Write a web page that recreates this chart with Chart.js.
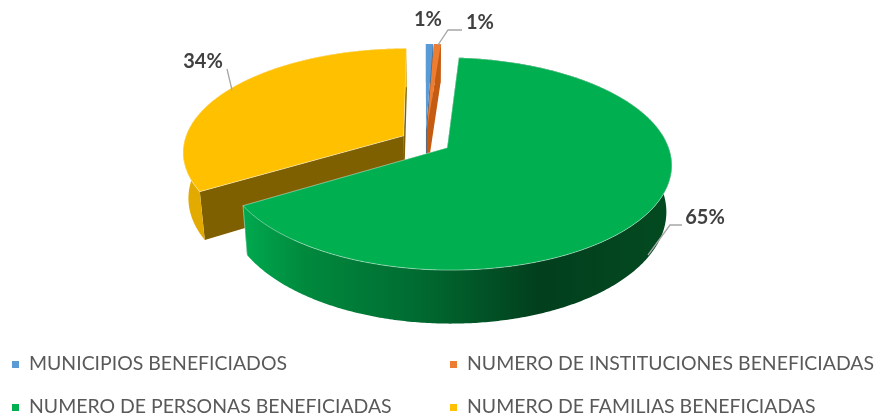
<!DOCTYPE html>
<html><head><meta charset="utf-8">
<style>html,body{margin:0;padding:0;background:#fff}#w{width:875px;height:418px;position:relative}canvas{filter:blur(.35px)}</style>
<script src="https://cdn.jsdelivr.net/npm/chart.js@4"></script>
</head><body><div id="w"><canvas id="c" width="875" height="418"></canvas></div>
<script>
const categories=['MUNICIPIOS BENEFICIADOS','NUMERO DE INSTITUCIONES BENEFICIADAS','NUMERO DE PERSONAS BENEFICIADAS','NUMERO DE FAMILIAS BENEFICIADAS'];
const shares=[0.6,0.6,65.2,33.6];
const faceColors=['#5b9bd5','#ed7d31','#00b050','#ffc000'];
const legendColors=['#5b9bd5','#ed7d31','#00b050','#ffc000'];
const cutColors=['#41719c','#c55a11','#007a38','#7f6000'];
const wallStops=[
 [[0,'#41719c'],[1,'#41719c']],
 [[0,'#c55a11'],[1,'#c55a11']],
 [[0,'#00a94e'],[0.14,'#008a3e'],[0.4,'#006c31'],[0.69,'#023f1d'],[1,'#034a20']],
 [[0,'#e3ab00'],[1,'#d9a400']]
];
const P={radius:120,spread:219.5,tilt:102,persp:0.15,depth:45,narrow:0.978,explode:0.115};
const order=[3,0,1,2];
const calloutLayout=[
 {x:428,y:20,line:null},
 {x:480,y:23,line:[[438,45],[448,30],[462,30]]},
 {x:705,y:218,line:[[648,255],[670,225],[682,225]]},
 {x:203,y:62,line:[[227,69],[232,90]]}
];
const legendLayout=[{x:12,y:361},{x:450,y:361},{x:12,y:404},{x:450,y:404}];

function projector(arc){
 const R=arc.outerRadius, mid=(arc.startAngle+arc.endAngle)/2, off=arc.options.offset/R;
 return (t,r,z)=>{
  const u=off*Math.cos(mid)+r*Math.cos(t), v=off*Math.sin(mid)+r*Math.sin(t), w=1/(1-P.persp*v);
  const shrink=1-(1-P.narrow)*z/P.depth;
  return [arc.x+P.spread*u*w*shrink, arc.y+P.tilt*v*w+z*w];
 };
}
function trace(ctx,pts){ctx.beginPath();pts.forEach((p,i)=>i?ctx.lineTo(p[0],p[1]):ctx.moveTo(p[0],p[1]));ctx.closePath();}
const pie3d={id:'pie3d',
 beforeDatasetsDraw(chart){
  const ctx=chart.ctx, meta=chart.getDatasetMeta(0);
  order.forEach(i=>{
   const arc=meta.data[i], pr=projector(arc), s=arc.startAngle, e=arc.endAngle;
   const n=Math.max(4,Math.ceil((e-s)/0.01));
   const top=[],bot=[];
   for(let k=0;k<=n;k++){const t=s+(e-s)*k/n;top.push(pr(t,1,0));bot.push(pr(t,1,P.depth));}
   const a0=pr(s,0,0),a1=pr(s,0,P.depth);
   ctx.save();
   ctx.fillStyle=cutColors[i];ctx.strokeStyle='rgba(255,255,255,.55)';ctx.lineWidth=.8;
   [[top[0],bot[0]],[top[n],bot[n]]].forEach(([a,b])=>{trace(ctx,[a0,a,b,a1]);ctx.fill();});
   const xs=top.concat(bot).map(p=>p[0]), x0=Math.min(...xs), x1=Math.max(...xs);
   const g=ctx.createLinearGradient(x0,0,x1,0);
   wallStops[i].forEach(([o,c])=>g.addColorStop(o,c));
   ctx.fillStyle=g;trace(ctx,top.concat(bot.slice().reverse()));ctx.fill();
   const face=[a0].concat(top);
   ctx.fillStyle=arc.options.backgroundColor;trace(ctx,face);ctx.fill();
   if(i>=2){ctx.stroke();
     ctx.beginPath();ctx.moveTo(top[n][0],top[n][1]);ctx.lineTo(bot[n][0],bot[n][1]);ctx.stroke();}
   ctx.restore();
  });
  return false;
 },
 afterDraw(chart){
  const ctx=chart.ctx, total=shares.reduce((a,b)=>a+b,0);
  ctx.save();
  calloutLayout.forEach((c,i)=>{
   if(c.line){ctx.strokeStyle='#a6a6a6';ctx.lineWidth=1.3;ctx.beginPath();
    c.line.forEach((p,k)=>k?ctx.lineTo(p[0],p[1]):ctx.moveTo(p[0],p[1]));ctx.stroke();}
   ctx.fillStyle='#404040';ctx.font='bold 20px Lato';ctx.textAlign='center';ctx.textBaseline='middle';
   ctx.fillText(Math.round(shares[i]/total*100)+'%',c.x,c.y);
  });
  categories.forEach((t,i)=>{
   const l=legendLayout[i];
   ctx.fillStyle=legendColors[i];ctx.fillRect(l.x,l.y,7,7);
   ctx.fillStyle='#595959';ctx.font='19.45px Lato';ctx.textAlign='left';ctx.textBaseline='middle';
   ctx.fillText(t,l.x+17,l.y+3);
  });
  ctx.restore();
 }
};
new Chart(document.getElementById('c'),{
 type:'pie',
 data:{labels:categories,datasets:[{data:shares,backgroundColor:faceColors,borderWidth:0,offset:P.explode*P.radius,radius:P.radius}]},
 options:{responsive:false,animation:false,radius:P.radius,
  layout:{padding:{left:0,right:24,top:0,bottom:135}},
  plugins:{legend:{display:false},tooltip:{enabled:false},title:{display:false}}},
 plugins:[pie3d]
});
</script></body></html>
